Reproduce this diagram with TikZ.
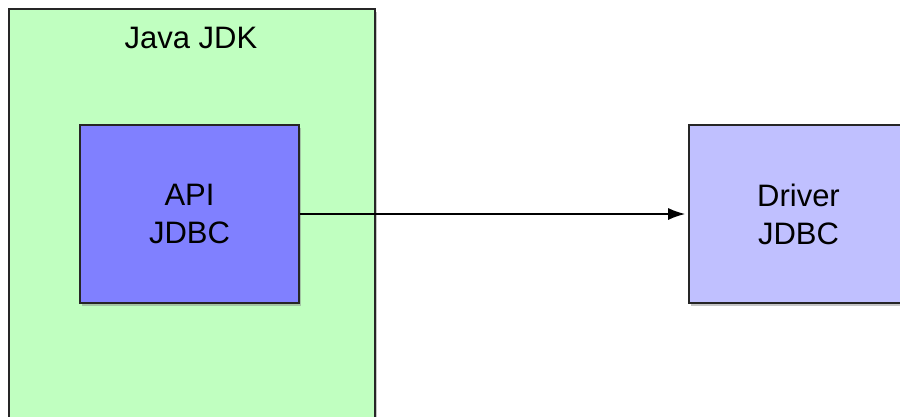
\documentclass[tikz,border=0pt]{standalone}
\usepackage{fontspec}
\setmainfont{Liberation Sans}
\usetikzlibrary{shadows,arrows.meta}
\definecolor{jdkgreen}{HTML}{C0FFC0}
\definecolor{apiblue}{HTML}{8080FF}
\definecolor{drvblue}{HTML}{C0C0FF}
\tikzset{
  boxstyle/.style={draw=black!85, line width=1.6pt, rectangle, inner sep=0pt,
    align=center, font=\fontsize{31}{38}\selectfont,
    drop shadow={shadow xshift=2pt, shadow yshift=-3pt, opacity=0.45}},
  conn/.style={draw=black, line width=1.6pt, -{Latex[length=17pt,width=12pt]}, shorten >=3pt}
}
\begin{document}
\begin{tikzpicture}[x=1pt,y=1pt]
\useasboundingbox (0,0) rectangle (900,-416);
\clip (0,0) rectangle (900,-416);
\fill[white] (0,0) rectangle (900,-416);
\node[boxstyle, fill=jdkgreen, minimum width=366pt, minimum height=440pt, anchor=north west] (jdk) at (8,-8) {};
\node[font=\fontsize{31}{38}\selectfont, inner sep=0pt] (jdktitle) at (191,-38) {Java JDK};
\node[boxstyle, fill=apiblue, minimum width=219pt, minimum height=178pt] (api) at (189.5,-214) {API\\JDBC};
\node[boxstyle, fill=drvblue, minimum width=219pt, minimum height=178pt] (drv) at (798.5,-214) {Driver\\JDBC};
\draw[conn] (api.east) -- (drv.west);
\end{tikzpicture}
\end{document}
